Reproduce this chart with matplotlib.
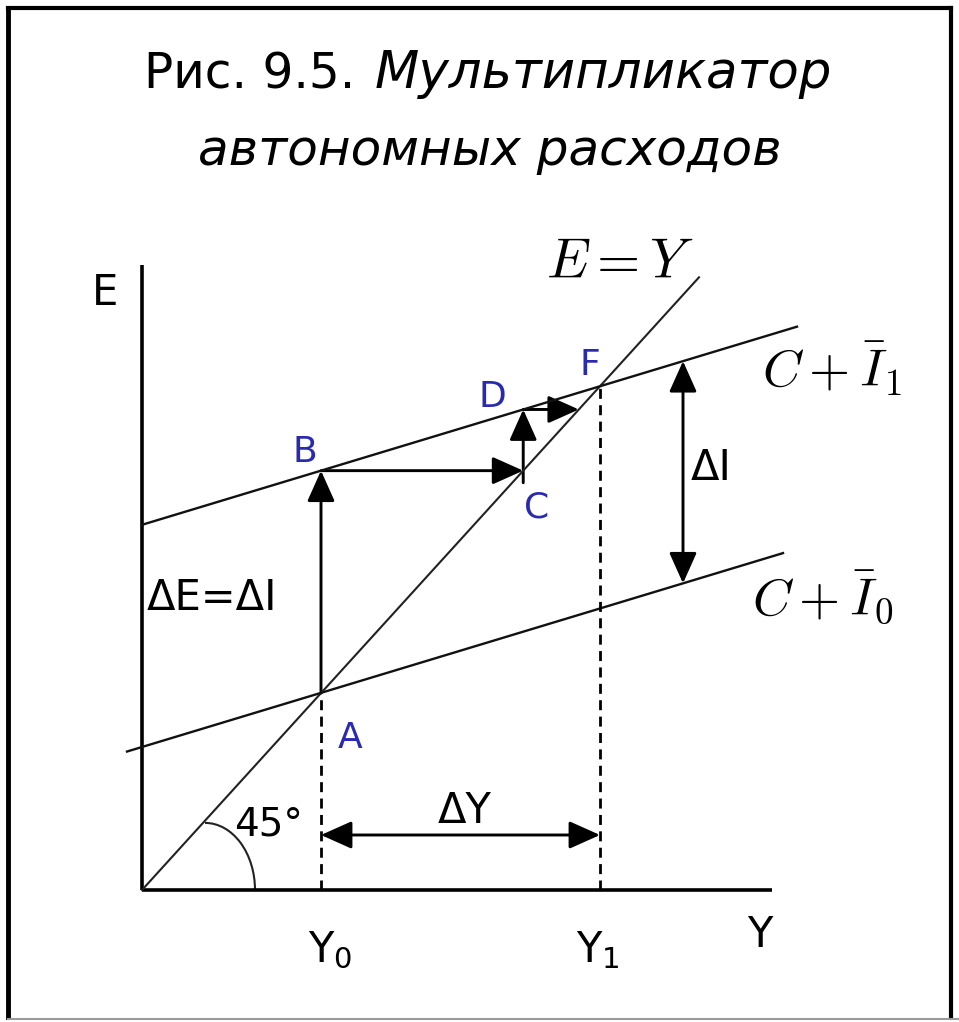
import matplotlib
matplotlib.use('Agg')
import matplotlib.pyplot as plt
from matplotlib.patches import FancyArrowPatch, Arc
from matplotlib.transforms import Affine2D

plt.rcParams['mathtext.fontset'] = 'cm'
plt.rcParams['font.family'] = ['DejaVu Sans']

# ---- data (economic model) ----
mpc = 0.275                 # slope of C + I lines
autonomous = [130, 332]     # intercepts of C+I0 and C+I1
Y_eq = [179, 458]           # Y0, Y1 equilibria
line_x_start = [-15, 0]     # left ends of C+I0, C+I1
line_x_end = [641, 655]     # right ends of C+I0, C+I1
diag_end = 557              # end of E = Y line
x_axis_end = 630
y_axis_end = 568
dI_at = 541                 # x of the ΔI arrow
dY_level = 50               # height of the ΔY arrow

W, H = 959, 1022
fig = plt.figure(figsize=(W / 100, H / 100), dpi=100)
ax = fig.add_axes([0, 0, 1, 1])
ax.set_xlim(-142, W - 142)
ax.set_ylim((890 - H) / 1.1, 890 / 1.1)
ax.axis('off')

pix = Affine2D().scale(1, -1).translate(0, H)


def E(x, a):
    return a + mpc * x


# axes
ax.plot([0, x_axis_end], [0, 0], color='k', lw=2.6, solid_capstyle='butt')
ax.plot([0, 0], [0, y_axis_end], color='k', lw=2.6, solid_capstyle='butt')
# 45 degree line
ax.plot([0, diag_end], [0, diag_end], color='#222222', lw=1.5)
# C + I lines
for a, xs, xe in zip(autonomous, line_x_start, line_x_end):
    ax.plot([xs, xe], [E(xs, a), E(xe, a)], color='#111111', lw=1.7)

# dashed verticals
Y0, Y1 = Y_eq
for yv in Y_eq:
    ax.plot([yv, yv], [0, yv], color='k', lw=2.0, ls=(0, (3.6, 2.3)))

# arc for 45 degrees
ax.add_patch(Arc((63, 0), width=100, height=122, theta1=0, theta2=90,
                 color='#222222', lw=1.5))


def arrow(p, q, style='-|>'):
    st = f'{style},head_length=19,head_width=8.5'
    ax.add_patch(FancyArrowPatch(p, q, arrowstyle=st, mutation_scale=1,
                                 shrinkA=0, shrinkB=0, color='k', lw=2.1))


a0, a1 = autonomous
yB = E(Y0, a1)
xC = yB
yD = E(xC, a1)
arrow((Y0, Y0), (Y0, yB))
arrow((Y0, yB), (xC, yB))
arrow((xC, yB - 11), (xC, yD))
arrow((xC, yD), (yD, yD))
arrow((dI_at, E(dI_at, a0)), (dI_at, E(dI_at, a1)), '<|-|>')
arrow((Y0, dY_level), (Y1, dY_level), '<|-|>')


def T(x, y, s, size=30, ha='center', color='k', **kw):
    ax.text(x, y, s, transform=pix, fontsize=size, ha=ha, va='baseline',
            color=color, **kw)


# title
T(144, 88, 'Рис. 9.5.', size=35, ha='left')
T(832, 88, 'Мультипликатор', size=37, ha='right', style='italic')
T(490, 165, 'автономных расходов', size=36, style='italic')

# math labels
T(620, 278, r'$E=Y$', size=40)
T(832, 387, r'$C+\bar{I}_1$', size=38)
T(823, 615, r'$C+\bar{I}_0$', size=38)

# axis labels
T(105, 305, 'E', size=30)
T(760, 947, 'Y', size=30)
T(330, 962, r'Y$_0$', size=30, math_fontfamily='dejavusans')
T(598, 962, r'Y$_1$', size=30, math_fontfamily='dejavusans')

# points
blue = '#2a2ab0'
T(305, 462, 'B', size=26, color=blue)
T(492, 407, 'D', size=26, color=blue)
T(590, 375, 'F', size=26, color=blue)
T(537, 517, 'C', size=26, color=blue)
T(350, 748, 'A', size=26, color=blue)

# annotations
T(212, 610, 'ΔE=ΔI', size=30)
T(711, 480, 'ΔI', size=30)
T(465, 823, 'ΔY', size=30)
T(269, 835, '45°', size=28)

# frame
ax.plot([8, 8], [8, 1017], color='k', lw=3.5, transform=pix, clip_on=False)
ax.plot([8, 951], [8, 8], color='k', lw=3.0, transform=pix, clip_on=False)
ax.plot([951, 951], [8, 1017], color='k', lw=3.0, transform=pix, clip_on=False)
ax.plot([8, 959], [1019, 1019], color='#9a9a9a', lw=1.5, transform=pix, clip_on=False)

fig.savefig('out.png', dpi=100, facecolor='white')
